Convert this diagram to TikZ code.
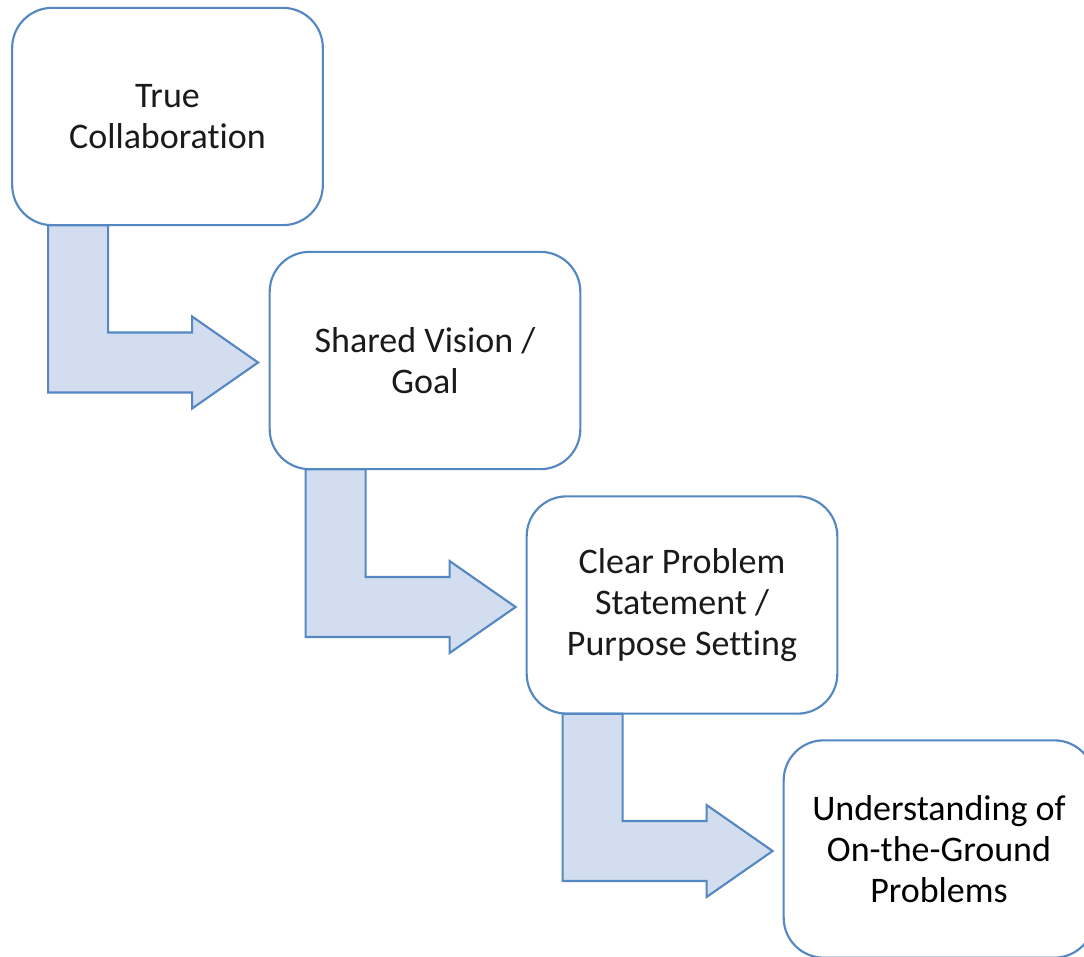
\documentclass[tikz,border=0pt]{standalone}
\usepackage{fontspec}
\setmainfont[Ligatures={NoCommon,TeX}]{Carlito}
\usetikzlibrary{calc}
\definecolor{edgeblue}{HTML}{5587C2}
\definecolor{fillblue}{HTML}{D2DEEF}
\definecolor{txtgray}{HTML}{1A1A1A}
\tikzset{
  stepbox/.style={draw=edgeblue, line width=1.6pt, fill=white, rounded corners=30pt,
    minimum width=233pt, minimum height=163pt, align=center, inner sep=0pt,
    font=\fontsize{27}{31}\selectfont, text=txtgray},
  bentarrow/.style={draw=edgeblue, line width=1.6pt, fill=fillblue, line join=miter}
}
\begin{document}
\begin{tikzpicture}[x=0.75pt,y=-0.75pt]
\useasboundingbox (0,0) rectangle (1084,956);
\clip (0,0) rectangle (1084,956);
\node[stepbox] (b1) at (167.5,116.5) {True\\Collaboration};
\node[stepbox] (b2) at (425,360.5) {Shared Vision /\\Goal};
\node[stepbox] (b3) at (682,605) {Clear Problem\\Statement /\\Purpose Setting};
\node[stepbox, text=black] (b4) at (939,849) {Understanding of\\On-the-Ground\\Problems};
\foreach \i/\j in {1/2,2/3,3/4}{
  \coordinate (a\i) at ($(b\i.south west)+(37,-1)$);
  \coordinate (t\i) at ($(a\i |- b\j.west)+(0,2)$);
  \draw[bentarrow] (a\i) -- ++(60,0) -- ($(t\i)+(60,-30)$) -- ($(t\i)+(144,-30)$)
    -- ($(t\i)+(144,-46)$) -- ($(t\i)+(210,0)$) -- ($(t\i)+(144,46)$)
    -- ($(t\i)+(144,30)$) -- ($(t\i)+(0,30)$) -- cycle;
}
\end{tikzpicture}
\end{document}
